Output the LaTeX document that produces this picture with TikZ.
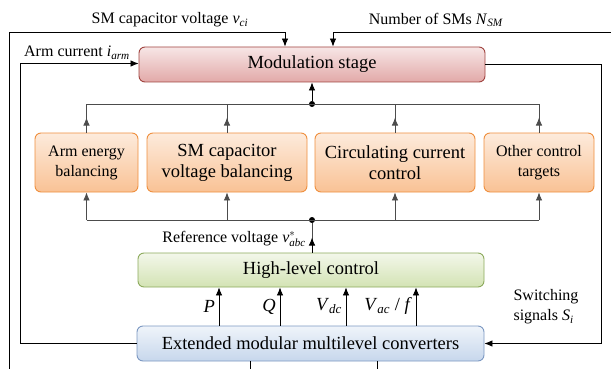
\documentclass[tikz,border=0pt]{standalone}
\usepackage{fontspec}
\setmainfont{Liberation Serif}
\usetikzlibrary{arrows.meta}

% box colours
\definecolor{modTop}{HTML}{F7E6E6}
\definecolor{modBot}{HTML}{E2A9A8}
\definecolor{modLine}{HTML}{A0433F}
\definecolor{hlTop}{HTML}{F3F7EA}
\definecolor{hlBot}{HTML}{D3E3B4}
\definecolor{hlLine}{HTML}{8CAA5C}
\definecolor{convTop}{HTML}{EFF4FA}
\definecolor{convBot}{HTML}{C7D7EC}
\definecolor{convLine}{HTML}{7C98C2}
\definecolor{ctrlTop}{HTML}{FDEBDC}
\definecolor{ctrlBot}{HTML}{F9C295}
\definecolor{ctrlLine}{HTML}{EF8F3E}

\newcommand{\varsub}[2]{\textit{#1}\textsubscript{\textit{#2}}}
\newcommand{\bigtxt}{\fontsize{18.5}{21}\selectfont}
\newcommand{\smalltxt}{\fontsize{16}{20}\selectfont}

\tikzset{
  box/.style={draw, rounded corners=6pt, line width=0.9pt, inner sep=0pt,
    align=center, font=\bigtxt},
  modbox/.style={box, draw=modLine, top color=modTop, bottom color=modBot,
    minimum width=346pt, minimum height=35pt},
  hlbox/.style={box, draw=hlLine, top color=hlTop, bottom color=hlBot,
    minimum width=346pt, minimum height=34pt},
  convbox/.style={box, draw=convLine, top color=convTop, bottom color=convBot,
    minimum width=347pt, minimum height=35pt},
  ctrlbox/.style={box, draw=ctrlLine, top color=ctrlTop, bottom color=ctrlBot,
    minimum height=59pt},
  sig/.style={-{Latex[length=8pt,width=6.5pt]}, line width=0.8pt},
  bus/.style={line width=0.8pt, black!70},
  jdot/.style={circle, fill, inner sep=0pt, minimum size=6pt},
  lbl/.style={inner sep=0pt, font=\smalltxt},
  qlbl/.style={inner sep=0pt, anchor=east, font=\bigtxt}
}

\begin{document}
\begin{tikzpicture}[x=1pt,y=-1pt]
\useasboundingbox (0,0) rectangle (611,369);

% Main stages
\node[modbox] (mod) at (312,64.5) {Modulation stage};
\node[hlbox] (hlc) at (311,270) {High-level control};
\node[convbox] (emmc) at (310.5,343.5) {Extended modular multilevel converters};

% Control targets
\node[ctrlbox, minimum width=103pt, font=\smalltxt] (arm) at (86.5,162.5) {Arm energy\\balancing};
\node[ctrlbox, minimum width=160pt] (smc) at (227,162.5) {SM capacitor\\voltage balancing};
\node[ctrlbox, minimum width=160pt] (ccc) at (395,162.5) {Circulating current\\control};
\node[ctrlbox, minimum width=110pt, font=\smalltxt] (oth) at (539,162.5) {Other control\\targets};

% Junctions
\node[jdot] (jTop) at (312,104) {};
\node[jdot] (jBot) at (312,220) {};

% Upper bus into the modulation stage
\draw[bus] (arm.north |- jTop) -- (oth.north |- jTop);
\foreach \b in {arm,smc,ccc,oth}
  \draw[bus] (\b.north) -- (\b.north |- jTop);
\foreach \b in {arm,smc,ccc,oth}
  \draw[sig, black!70] (\b.north) -- ++(0,-15);
\draw[sig] (jTop) -- (mod.south);

% Lower bus from the reference voltage
\draw[bus] (arm.south |- jBot) -- (oth.south |- jBot);
\foreach \b in {arm,smc,ccc,oth}
  \draw[sig, black!70] (\b.south |- jBot) -- (\b.south);
\draw[bus] (hlc.north -| jBot) -- (jBot);
\draw[sig] (hlc.north -| jBot) -- ++(0,-15);
\node[lbl, anchor=east] (refLbl) at (306,239) {Reference voltage \textit{v}$^{*}_{\mbox{\fontsize{11}{11}\selectfont\itshape abc}}$\hspace{2pt}};

% Measurements into the high-level control
\foreach \dx/\t [count=\i] in {-92/\textit{P}, -31/\textit{Q}, 35/\varsub{V}{dc}, 105/{\varsub{V}{ac} / \textit{f}}} {
  \draw[sig] ([xshift=\dx pt]hlc.south |- emmc.north) -- ([xshift=\dx pt]hlc.south);
  \node[qlbl] (meas\i) at ([xshift=\dx pt-4pt, yshift=-19pt]hlc.south) {\t};
}

% Feedback loops
\coordinate (capIn) at (9,369);
\coordinate (nIn) at (611,32);
\draw[sig] (capIn) -- (9,32) -| ([xshift=-27pt]mod.north);
\node[lbl] (capLbl) at (170,20) {SM capacitor voltage \varsub{v}{ci}};
\draw[sig] (nIn) -| ([xshift=21pt]mod.north);
\node[lbl] (nLbl) at (436,20) {Number of SMs \varsub{N}{SM}};
\draw[sig] (emmc.west) -- ++(-116,0) |- ([yshift=1pt]mod.west);
\node[lbl] (iLbl) at (77,53) {Arm current \varsub{i}{arm}};
\draw[sig] (mod.east) -- ++(116,0) |- (emmc.east);
\node[lbl, align=left] (sLbl) at (546,307) {Switching\\signals \varsub{S}{i}};

% Lines leaving the converter
\draw[line width=0.8pt] ([xshift=-60pt]emmc.south) -- ++(0,10);
\draw[line width=0.8pt] ([xshift=67pt]emmc.south) -- ++(0,10);

\end{tikzpicture}
\end{document}
